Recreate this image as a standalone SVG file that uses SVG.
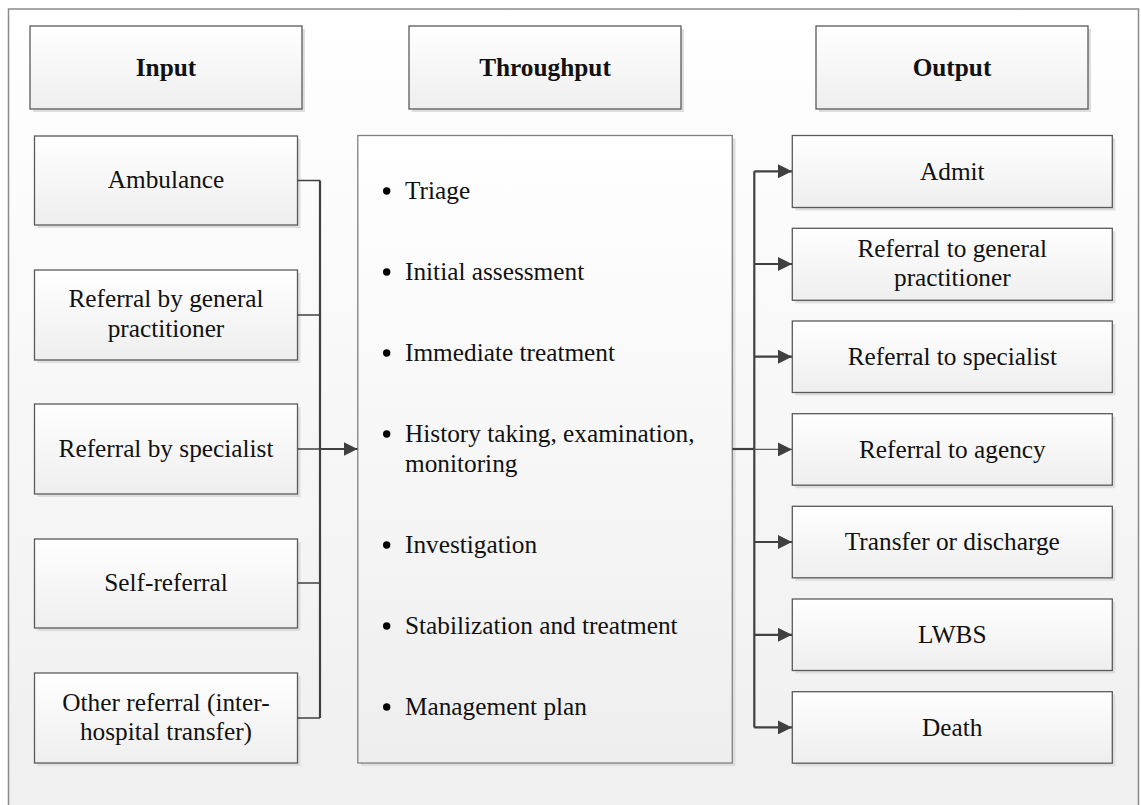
<svg xmlns="http://www.w3.org/2000/svg" width="1141" height="805" viewBox="0 0 1141 805">
<defs>
<linearGradient id="bg" x1="0" y1="0" x2="0" y2="1">
<stop offset="0" stop-color="#ffffff"/>
<stop offset="1" stop-color="#efefef"/>
</linearGradient>
<linearGradient id="boxg" x1="0" y1="0" x2="0" y2="1">
<stop offset="0" stop-color="#ffffff"/>
<stop offset="1" stop-color="#eeeeee"/>
</linearGradient>
<marker id="arr" viewBox="0 0 14 14" refX="14" refY="7" markerWidth="14" markerHeight="14" markerUnits="userSpaceOnUse" orient="auto">
<path d="M0,0 L14,7 L0,14 Z" fill="#404040"/>
</marker>
</defs>
<style>
.box{fill:url(#boxg);stroke:#5a5a5a;stroke-width:1.3}
.shadow{fill:#dedede}
.t{font-family:"Liberation Serif","Times New Roman",serif;font-size:25.3px;fill:#111;text-anchor:middle}
.h{font-weight:bold}
.b{font-family:"Liberation Serif","Times New Roman",serif;font-size:25.3px;fill:#111}
.bus{fill:none;stroke:#404040;stroke-width:2.2}
.thin{fill:none;stroke:#404040;stroke-width:1.3}
.thinG{fill:none;stroke:#5a5a5a;stroke-width:1.2}
</style>
<rect x="0" y="0" width="1141" height="805" fill="#ffffff"/>
<rect x="8.5" y="9" width="1130" height="810" fill="url(#bg)" stroke="#8a8a8a" stroke-width="1.5"/>

<g id="hdr-input"><rect class="shadow" x="33" y="29" width="272" height="83"/><rect class="box" x="30" y="26" width="272" height="83"/><text class="t h" x="166" y="76">Input</text></g>
<g id="hdr-throughput"><rect class="shadow" x="412" y="29" width="272" height="83"/><rect class="box" x="409" y="26" width="272" height="83"/><text class="t h" x="545" y="76">Throughput</text></g>
<g id="hdr-output"><rect class="shadow" x="819" y="29" width="272" height="83"/><rect class="box" x="816" y="26" width="272" height="83"/><text class="t h" x="952" y="76">Output</text></g>

<g id="in-ambulance"><rect class="shadow" x="37.5" y="139" width="263" height="89"/><rect class="box" x="34.5" y="136" width="263" height="89"/><text class="t" x="166" y="188">Ambulance</text></g>
<g id="in-gp"><rect class="shadow" x="37.5" y="273" width="263" height="90"/><rect class="box" x="34.5" y="270" width="263" height="90"/><text class="t" x="166" y="307">Referral by general</text><text class="t" x="166" y="337">practitioner</text></g>
<g id="in-specialist"><rect class="shadow" x="37.5" y="407" width="263" height="90"/><rect class="box" x="34.5" y="404" width="263" height="90"/><text class="t" x="166" y="457">Referral by specialist</text></g>
<g id="in-self"><rect class="shadow" x="37.5" y="542" width="263" height="89"/><rect class="box" x="34.5" y="539" width="263" height="89"/><text class="t" x="166" y="591">Self-referral</text></g>
<g id="in-other"><rect class="shadow" x="37.5" y="676" width="263" height="90"/><rect class="box" x="34.5" y="673" width="263" height="90"/><text class="t" x="166" y="711">Other referral (inter-</text><text class="t" x="166" y="740">hospital transfer)</text></g>

<g id="throughput">
<rect class="shadow" x="361" y="138.5" width="374.5" height="627.5"/>
<rect x="357.8" y="135.5" width="374.5" height="627.5" fill="url(#boxg)" stroke="#808080" stroke-width="1.3"/>
<g fill="#000">
<circle cx="386.7" cy="191" r="3.7"/><circle cx="386.7" cy="272" r="3.7"/><circle cx="386.7" cy="353" r="3.7"/><circle cx="386.7" cy="434" r="3.7"/><circle cx="386.7" cy="545" r="3.7"/><circle cx="386.7" cy="626" r="3.7"/><circle cx="386.7" cy="707" r="3.7"/>
</g>
<text class="b" x="405" y="199">Triage</text>
<text class="b" x="405" y="280">Initial assessment</text>
<text class="b" x="405" y="361">Immediate treatment</text>
<text class="b" x="405" y="442">History taking, examination,</text>
<text class="b" x="405" y="472">monitoring</text>
<text class="b" x="405" y="553">Investigation</text>
<text class="b" x="405" y="634">Stabilization and treatment</text>
<text class="b" x="405" y="715">Management plan</text>
</g>

<g id="out-admit"><rect class="shadow" x="795.3" y="138.5" width="320" height="72"/><rect class="box" x="792.3" y="135.5" width="320" height="72"/><text class="t" x="952.3" y="179.5">Admit</text></g>
<g id="out-gp"><rect class="shadow" x="795.3" y="231.3" width="320" height="72"/><rect class="box" x="792.3" y="228.3" width="320" height="72"/><text class="t" x="952.3" y="257">Referral to general</text><text class="t" x="952.3" y="286">practitioner</text></g>
<g id="out-specialist"><rect class="shadow" x="795.3" y="324" width="320" height="71.5"/><rect class="box" x="792.3" y="321" width="320" height="71.5"/><text class="t" x="952.3" y="365">Referral to specialist</text></g>
<g id="out-agency"><rect class="shadow" x="795.3" y="416.7" width="320" height="71.5"/><rect class="box" x="792.3" y="413.7" width="320" height="71.5"/><text class="t" x="952.3" y="457.5">Referral to agency</text></g>
<g id="out-transfer"><rect class="shadow" x="795.3" y="509.3" width="320" height="71.5"/><rect class="box" x="792.3" y="506.3" width="320" height="71.5"/><text class="t" x="952.3" y="550">Transfer or discharge</text></g>
<g id="out-lwbs"><rect class="shadow" x="795.3" y="602" width="320" height="71.5"/><rect class="box" x="792.3" y="599" width="320" height="71.5"/><text class="t" x="952.3" y="643">LWBS</text></g>
<g id="out-death"><rect class="shadow" x="795.3" y="694.7" width="320" height="71.5"/><rect class="box" x="792.3" y="691.7" width="320" height="71.5"/><text class="t" x="952.3" y="735.5">Death</text></g>

<g id="connectors">
<path class="thin" d="M297.5,180.5 H320 M297.5,315 H320 M297.5,449 H320 M297.5,583 H320 M297.5,718 H320"/>
<path class="bus" d="M320,180.5 V718"/>
<path class="bus" d="M320,449 H357.5" marker-end="url(#arr)"/>
<path class="bus" d="M732.3,449 H754.3"/>
<path class="bus" d="M754.3,171.3 V727.4"/>
<path class="bus" d="M754.3,171.3 H792" marker-end="url(#arr)"/>
<path class="bus" d="M754.3,264 H792" marker-end="url(#arr)"/>
<path class="bus" d="M754.3,356.7 H792" marker-end="url(#arr)"/>
<path class="thinG" d="M754.3,449.4 H792" marker-end="url(#arr)"/>
<path class="bus" d="M754.3,542 H792" marker-end="url(#arr)"/>
<path class="bus" d="M754.3,634.8 H792" marker-end="url(#arr)"/>
<path class="bus" d="M754.3,727.4 H792" marker-end="url(#arr)"/>
</g>
</svg>
